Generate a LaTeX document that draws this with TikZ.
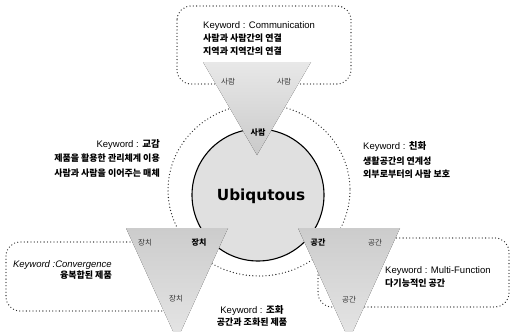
\documentclass[tikz,border=0pt]{standalone}
\usepackage{fontspec}
\setmainfont{Liberation Sans}
\newfontfamily\kr{Noto Sans CJK KR}
\newfontfamily\heavy{DejaVu Sans}
\begin{document}
\begin{tikzpicture}[x=1pt,y=-1pt,
  dotline/.style={line width=1.3pt, dash pattern=on 0pt off 3.3pt, line cap=round, draw=black!85},
  kw/.style={font=\fontsize{9.5}{11}\selectfont, inner sep=0pt},
  krt/.style={font=\kr\bfseries\fontsize{9}{11}\selectfont, inner sep=0pt},
  trilab/.style={font=\kr\fontsize{7.5}{9}\selectfont, text=black!80, inner sep=0pt},
  tribold/.style={font=\kr\bfseries\fontsize{8}{9}\selectfont, text=black, inner sep=0pt},
  tritop/.style={top color=gray!18, bottom color=gray!42},
  tribot/.style={top color=gray!40, bottom color=gray!20}]
\useasboundingbox (0,0) rectangle (512,332);
\fill[white] (0,0) rectangle (512,332);
% dotted boxes
\draw[dotline, rounded corners=14pt] (177,6) rectangle (351,84);
\draw[dotline, rounded corners=14pt] (6,242) rectangle (190,311);
\draw[dotline, rounded corners=14pt] (318,238) rectangle (509,307);
% dotted ring
\draw[dotline] (259,190) ellipse [x radius=91, y radius=86];
% core circle
\node[circle, draw=black, line width=1.1pt, fill=gray!24, minimum size=132pt, inner sep=0pt] (core) at (258,195) {};
% triangles
\fill[tritop] (203,62) -- (311,62) -- (257,155) -- cycle;
\fill[tribot] (126,228) -- (228,228) -- (177,340) -- cycle;
\fill[tribot] (298,228) -- (400,228) -- (349,340) -- cycle;
% triangle labels
\node[trilab] (t1) at (228,82) {사람};
\node[trilab] (t2) at (284,82) {사람};
\node[tribold] (t3) at (258,133) {사람};
\node[trilab] (l1) at (145,243) {장치};
\node[tribold] (l2) at (199,243) {장치};
\node[trilab] (l3) at (176,299) {장치};
\node[tribold] (r1) at (318,243) {공간};
\node[trilab] (r2) at (375,243) {공간};
\node[trilab] (r3) at (349,300) {공간};
% centre
\node[font=\heavy\bfseries\fontsize{15.3}{18}\selectfont, inner sep=0pt] (ubi) at (261,196) {Ubiqutous};
% top box text
\node[kw, anchor=base west] (a1) at (203,28.5) {Keyword : Communication};
\node[krt, anchor=base west] (a2) at (203,41.5) {사람과 사람간의 연결};
\node[krt, anchor=base west] (a3) at (203,54) {지역과 지역간의 연결};
% left text
\node[kw, anchor=base east] (b1) at (160,147) {Keyword : {\kr\bfseries 교감}};
\node[krt, anchor=base east] (b2) at (160,161.5) {제품을 활용한 관리체계 이용};
\node[krt, anchor=base east] (b3) at (160,176) {사람과 사람을 이어주는 매체};
% right text
\node[kw, anchor=base west] (c1) at (363,149) {Keyword : {\kr\bfseries 친화}};
\node[krt, anchor=base west] (c2) at (363,164) {생활공간의 연계성};
\node[krt, anchor=base west] (c3) at (363,177.5) {외부로부터의 사람 보호};
% bottom-left box text
\node[kw, font=\itshape\fontsize{9.5}{11}\selectfont, anchor=base east] (d1) at (112,267) {Keyword :Convergence};
\node[krt, anchor=base east] (d2) at (112,278) {융복합된 제품};
% bottom-right box text
\node[kw, anchor=base west] (e1) at (385,273.5) {Keyword : Multi-Function};
\node[krt, anchor=base west] (e2) at (385,286) {다기능적인 공간};
% bottom centre text
\node[kw, anchor=base] (f1) at (252,313) {Keyword : {\kr\bfseries 조화}};
\node[krt, anchor=base] (f2) at (252,325) {공간과 조화된 제품};
\end{tikzpicture}
\end{document}
